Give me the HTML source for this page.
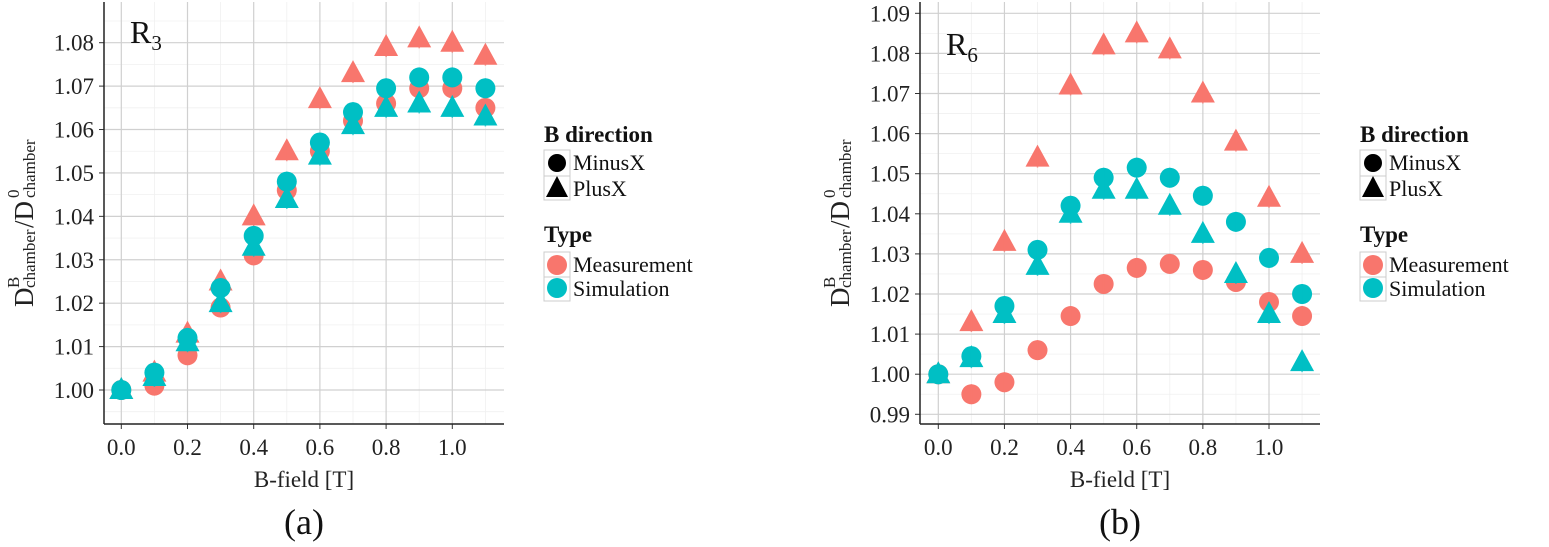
<!DOCTYPE html>
<html><head><meta charset="utf-8"><style>
body{margin:0;background:#fff;}
svg{display:block;font-family:"Liberation Serif",serif;}
</style></head><body>
<svg id="fig" width="1549" height="547" viewBox="0 0 1549 547" xmlns="http://www.w3.org/2000/svg"></svg>
<script>
const xValues=[0,0.1,0.2,0.3,0.4,0.5,0.6,0.7,0.8,0.9,1.0,1.1];
const xTicks=[0,0.2,0.4,0.6,0.8,1.0];
const xTickLabels=["0.0","0.2","0.4","0.6","0.8","1.0"];
const aMeasMinus=[1.000,1.001,1.008,1.019,1.031,1.046,1.055,1.062,1.066,1.0695,1.0695,1.065];
const aMeasPlus=[1.000,1.004,1.013,1.025,1.040,1.055,1.067,1.073,1.079,1.081,1.080,1.077];
const aSimMinus=[1.000,1.004,1.012,1.0235,1.0355,1.048,1.057,1.064,1.0695,1.072,1.072,1.0695];
const aSimPlus=[1.000,1.003,1.011,1.020,1.033,1.044,1.054,1.061,1.065,1.066,1.065,1.063];
const aYTicks=[1.00,1.01,1.02,1.03,1.04,1.05,1.06,1.07,1.08];
const aYTickLabels=["1.00","1.01","1.02","1.03","1.04","1.05","1.06","1.07","1.08"];
const bMeasMinus=[1.000,0.995,0.998,1.006,1.0145,1.0225,1.0265,1.0275,1.026,1.023,1.018,1.0145];
const bMeasPlus=[1.000,1.013,1.033,1.054,1.072,1.082,1.085,1.081,1.070,1.058,1.044,1.030];
const bSimMinus=[1.000,1.0045,1.017,1.031,1.042,1.049,1.0515,1.049,1.0445,1.038,1.029,1.020];
const bSimPlus=[1.000,1.004,1.015,1.027,1.040,1.046,1.046,1.042,1.035,1.025,1.015,1.003];
const bYTicks=[0.99,1.00,1.01,1.02,1.03,1.04,1.05,1.06,1.07,1.08,1.09];
const bYTickLabels=["0.99","1.00","1.01","1.02","1.03","1.04","1.05","1.06","1.07","1.08","1.09"];

const NS="http://www.w3.org/2000/svg";
const svg=document.getElementById('fig');
const RED="#F8766D",TEAL="#00BFC4";
function el(tag,attrs,parent,text){const e=document.createElementNS(NS,tag);for(const k in attrs)e.setAttribute(k,attrs[k]);if(text!==undefined)e.textContent=text;(parent||svg).appendChild(e);return e;}

function panel(cfg){
  const g=el('g',{});
  
  
  const X=v=>cfg.x0+(v-0)*(cfg.x1-cfg.x0)/1.0;
  const Y=v=>cfg.yA+(v-cfg.vA)*(cfg.yB-cfg.yA)/(cfg.vB-cfg.vA);
  const L=cfg.left,R=cfg.right,T=2,B=424;
  el('rect',{x:L,y:T,width:R-L,height:B-T,fill:'#fff'},g);
  const step=cfg.yTicks[1]-cfg.yTicks[0];
  for(let i=-1;i<cfg.yTicks.length;i++){const v=cfg.yTicks[0]+step*(i+0.5);const y=Y(v);if(y>T&&y<B)el('line',{x1:L,x2:R,y1:y,y2:y,stroke:'#f0f0f0','stroke-width':0.8},g);}
  for(let v=0.1;v<1.2;v+=0.2){el('line',{x1:X(v),x2:X(v),y1:T,y2:B,stroke:'#f0f0f0','stroke-width':0.8},g);}
  cfg.yTicks.forEach((v,i)=>{const y=Y(v);
    const ln=el('line',{x1:L,x2:R,y1:y,y2:y,stroke:'#d0d0d0','stroke-width':1.2},g);
    
    el('line',{x1:L-5,x2:L,y1:y,y2:y,stroke:'#333','stroke-width':1},g);
    const t=el('text',{x:L-10,y:y+8,'text-anchor':'end','font-size':23,fill:'#222'},g,cfg.yLabels[i]);
    });
  xTicks.forEach((v,i)=>{const x=X(v);
    el('line',{x1:x,x2:x,y1:T,y2:B,stroke:'#d0d0d0','stroke-width':1.2},g);
    el('line',{x1:x,x2:x,y1:B,y2:B+5,stroke:'#333','stroke-width':1},g);
    const t=el('text',{x:x,y:455,'text-anchor':'middle','font-size':23,fill:'#222'},g,xTickLabels[i]);
    });
  el('line',{x1:L,x2:L,y1:T,y2:B,stroke:'#222','stroke-width':1.5},g);
  el('line',{x1:L,x2:R,y1:B,y2:B,stroke:'#222','stroke-width':1.5},g);
  function series(vals,color,shape,nm){
    vals.forEach((v,i)=>{const x=X(xValues[i]),y=Y(v);let m;
      if(shape==='c')m=el('circle',{cx:x,cy:y,r:10,fill:color},g);
      else m=el('polygon',{points:`${x},${y-13} ${x-12},${y+9} ${x+12},${y+9}`,fill:color},g);
      
      el('line',{x1:x,x2:x,y1:y-10,y2:y+10,stroke:color,'stroke-width':1.5,opacity:0.7},g);
    });
  }
  series(cfg.mm,RED,'c','measurement-minusx-point');
  series(cfg.mp,RED,'t','measurement-plusx-point');
  series(cfg.sm,TEAL,'c','simulation-minusx-point');
  series(cfg.sp,TEAL,'t','simulation-plusx-point');
  const lab=el('text',{x:cfg.labX,y:cfg.labY,'font-size':32,fill:'#111'},g);
  
  el('tspan',{},lab,'R');el('tspan',{'font-size':21,dy:7},lab,cfg.sub);
  const xt=el('text',{x:(L+R)/2,y:487,'text-anchor':'middle','font-size':23,fill:'#222'},g,'B-field [T]');
  
  const yg=el('g',{transform:`translate(${cfg.ytX},213) rotate(-90)`},g);
  
  el('text',{x:-94,y:0,'font-size':27,fill:'#222'},yg,'D');
  el('text',{x:-75,y:-14,'font-size':17,fill:'#222'},yg,'B');
  el('text',{x:-75,y:2,'font-size':17,fill:'#222'},yg,'chamber');
  el('text',{x:-15,y:0,'font-size':27,fill:'#222'},yg,'/D');
  el('text',{x:15,y:-14,'font-size':17,fill:'#222'},yg,'0');
  el('text',{x:15,y:2,'font-size':17,fill:'#222'},yg,'chamber');
  const cap=el('text',{x:(L+R)/2,y:534,'text-anchor':'middle','font-size':36,fill:'#111'},g,cfg.cap);
  
  const lx=cfg.legX;
  const lg=el('g',{},g);
  el('text',{x:lx,y:142,'font-size':23,'font-weight':'bold',fill:'#111'},lg,'B direction');
  el('rect',{x:lx,y:150,width:26,height:26,fill:'#fff',stroke:'#ccc'},lg);
  el('rect',{x:lx,y:176,width:26,height:24,fill:'#fff',stroke:'#ccc'},lg);
  el('circle',{cx:lx+13,cy:163,r:9,fill:'#000'},lg);
  el('polygon',{points:`${lx+13},${176} ${lx+2},${197} ${lx+24},${197}`,fill:'#000'},lg);
  el('text',{x:lx+29,y:170,'font-size':22,fill:'#111'},lg,'MinusX');
  el('text',{x:lx+29,y:196,'font-size':22,fill:'#111'},lg,'PlusX');
  el('text',{x:lx,y:242,'font-size':23,'font-weight':'bold',fill:'#111'},lg,'Type');
  el('rect',{x:lx,y:252,width:26,height:25,fill:'#fff',stroke:'#ccc'},lg);
  el('rect',{x:lx,y:277,width:26,height:24,fill:'#fff',stroke:'#ccc'},lg);
  el('circle',{cx:lx+13,cy:265,r:10,fill:RED},lg);
  el('circle',{cx:lx+13,cy:288,r:10,fill:TEAL},lg);
  el('text',{x:lx+29,y:272,'font-size':22,fill:'#111'},lg,'Measurement');
  el('text',{x:lx+29,y:296,'font-size':22,fill:'#111'},lg,'Simulation');
}
panel({name:'panel-a-r3',left:104,right:504,x0:121.3,x1:452.3,vA:1.00,yA:390,vB:1.08,yB:42.7,
  yTicks:aYTicks,yLabels:aYTickLabels,mm:aMeasMinus,mp:aMeasPlus,sm:aSimMinus,sp:aSimPlus,
  labX:130,labY:43,sub:'3',ytX:33,cap:'(a)',legX:544});
panel({name:'panel-b-r6',left:920,right:1320,x0:938.3,x1:1269,vA:0.99,yA:414.3,vB:1.09,yB:13.3,
  yTicks:bYTicks,yLabels:bYTickLabels,mm:bMeasMinus,mp:bMeasPlus,sm:bSimMinus,sp:bSimPlus,
  labX:946,labY:55,sub:'6',ytX:849,cap:'(b)',legX:1360});
</script>
</body></html>
